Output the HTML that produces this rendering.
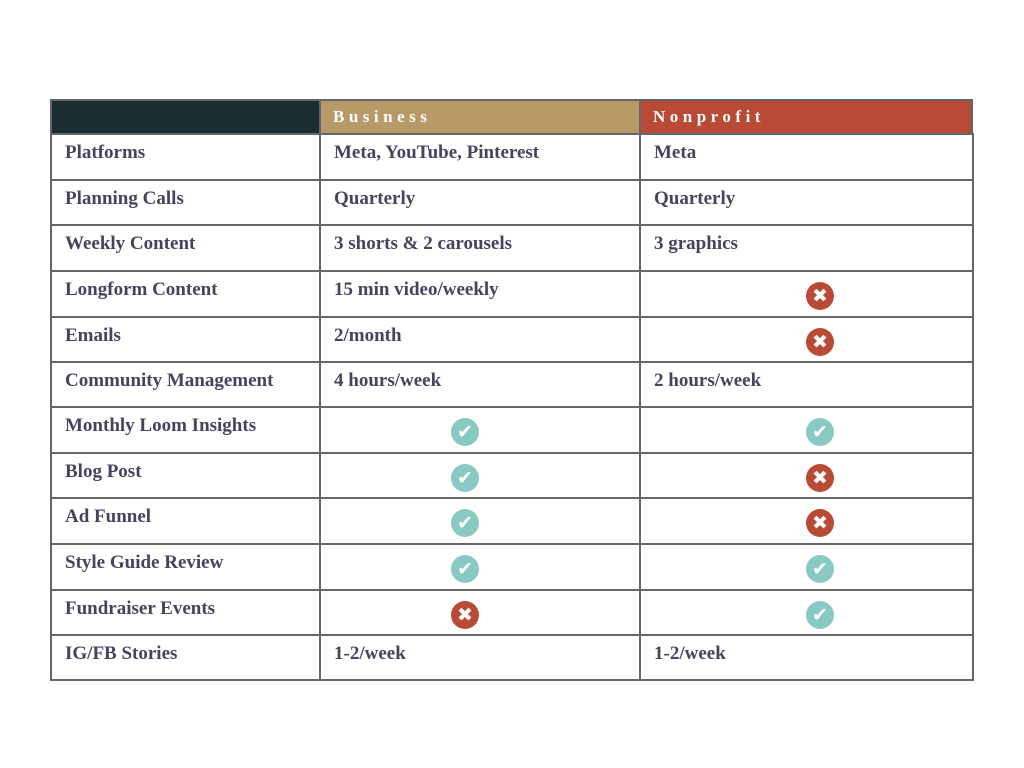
<!DOCTYPE html>
<html><head><meta charset="utf-8"><style>
body{margin:0;width:1024px;height:768px;background:#fff;position:relative;font-family:"Liberation Serif",serif;overflow:hidden}
.c{position:absolute;box-sizing:border-box;border:2px solid #64666c;margin:-1px 0 0 -1px;font-weight:bold;color:#48425e;font-size:19px;padding:7px 0 0 13px}
.h{color:#fff;font-size:17px;letter-spacing:4.5px;padding:6px 0 0 12px}
.i{position:absolute;width:28px;height:28px;border-radius:50%;color:#fff;text-align:center;font-family:"DejaVu Sans",sans-serif;font-weight:bold;line-height:28px;font-size:19px}
.ok{background:#88c9c3}.no{background:#b94a36}
</style></head><body>
<div class="c" style="left:51px;top:100px;width:271px;height:36px;background:#1a2e31"></div>
<div class="c h" style="left:320px;top:100px;width:322px;height:36px;background:#b89968">Business</div>
<div class="c h" style="left:640px;top:100px;width:334px;height:36px;background:#b94a36">Nonprofit</div>
<div id="t"></div>
<script>
var ys=[134,180,225,271,317,362,407,453,498,544,590,635,680];
var rows=[["Platforms","Meta, YouTube, Pinterest","Meta"],["Planning Calls","Quarterly","Quarterly"],["Weekly Content","3 shorts & 2 carousels","3 graphics"],["Longform Content","15 min video/weekly","x"],["Emails","2/month","x"],["Community Management","4 hours/week","2 hours/week"],["Monthly Loom Insights","v","v"],["Blog Post","v","x"],["Ad Funnel","v","x"],["Style Guide Review","v","v"],["Fundraiser Events","x","v"],["IG/FB Stories","1-2/week","1-2/week"]];
var xs=[51,320,640,973],cx=[0,465,820],h="";
rows.forEach(function(r,i){var y=ys[i],hh=ys[i+1]-y+2;
for(var j=0;j<3;j++){var v=r[j];var txt=(v=="v"||v=="x")?"":v.replace("&","&amp;");
h+='<div class="c" style="left:'+xs[j]+'px;top:'+y+'px;width:'+(xs[j+1]-xs[j]+2)+'px;height:'+hh+'px">'+txt+'</div>';
if(v=="v"||v=="x"){var cy=(y+ys[i+1])/2+2;h+='<div class="i '+(v=="v"?"ok":"no")+'" style="left:'+(cx[j]-14)+'px;top:'+(cy-14)+'px">'+(v=="v"?"✔":"✖")+'</div>';}}});
document.getElementById("t").innerHTML=h;
</script>
</body></html>
